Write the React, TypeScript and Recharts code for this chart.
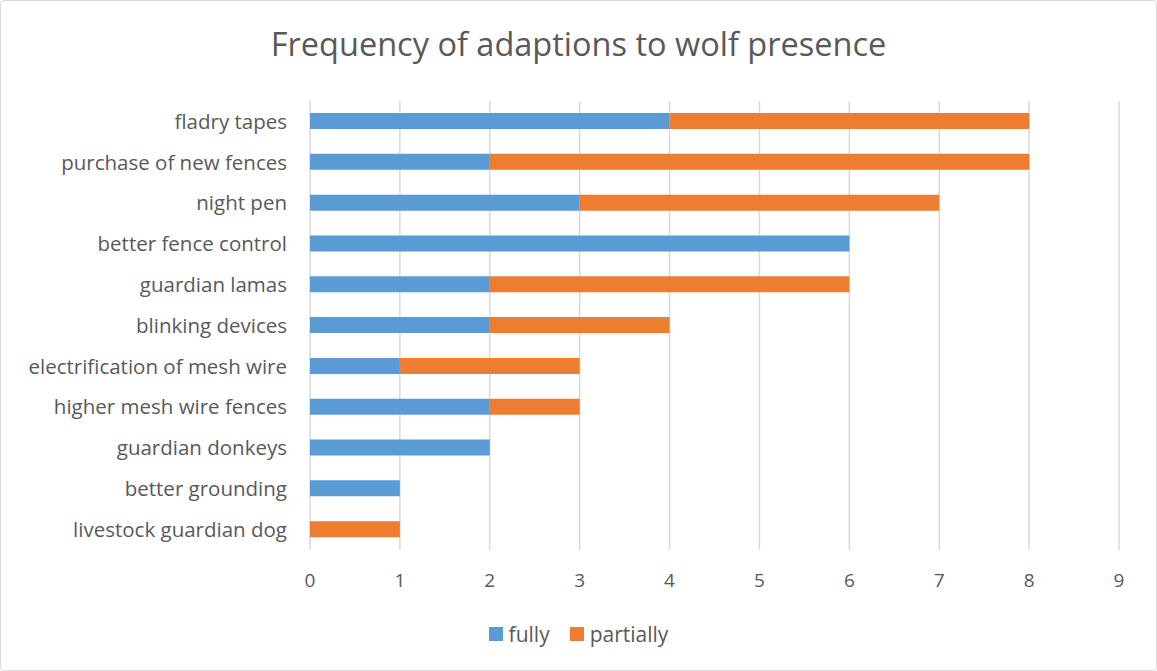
import { BarChart, Bar, XAxis, YAxis, CartesianGrid } from "recharts";

const measures = [
  "fladry tapes",
  "purchase of new fences",
  "night pen",
  "better fence control",
  "guardian lamas",
  "blinking devices",
  "electrification of mesh wire",
  "higher mesh wire fences",
  "guardian donkeys",
  "better grounding",
  "livestock guardian dog",
];

const fully = [4, 2, 3, 6, 2, 2, 1, 2, 2, 1, 0];
const partially = [4, 6, 4, 0, 4, 2, 2, 1, 0, 0, 1];

const xTicks = [0, 1, 2, 3, 4, 5, 6, 7, 8, 9];

const series = [
  { key: "fully", color: "#5b9bd5" },
  { key: "partially", color: "#ed7d31" },
];

const TEXT = "#595959";
const FONT = "'Open Sans', sans-serif";

export default function App() {
  const data = measures.map((name, i) => ({
    name,
    fully: fully[i],
    partially: partially[i],
  }));

  return (
    <div
      style={{
        position: "absolute",
        left: 0,
        top: 0,
        width: 1157,
        height: 671,
        background: "#fff",
        fontFamily: FONT,
      }}
    >
      <div
        style={{
          position: "absolute",
          left: 0,
          top: 0,
          width: 1155,
          height: 669,
          border: "1px solid #d9d9d9",
          borderRadius: 4,
        }}
      />
      <div
        style={{
          position: "absolute",
          left: 0,
          top: 21,
          width: 1157,
          textAlign: "center",
          fontSize: 32.5,
          color: TEXT,
        }}
      >
        Frequency of adaptions to wolf presence
      </div>
      <BarChart
        width={1157}
        height={671}
        data={data}
        layout="vertical"
        barSize={16}
        margin={{ top: 101, right: 38, bottom: 0, left: 0 }}
      >
        <CartesianGrid horizontal={false} stroke="#d9d9d9" strokeWidth={1.5} />
        <XAxis
          type="number"
          domain={[0, 9]}
          ticks={xTicks}
          axisLine={false}
          tickLine={false}
          tickSize={0}
          tickMargin={24}
          height={121}
          tick={{ fill: TEXT, fontSize: 19, fontFamily: FONT }}
        />
        <YAxis
          type="category"
          dataKey="name"
          width={310}
          axisLine={false}
          tickLine={false}
          tickSize={0}
          tickMargin={23}
          interval={0}
          tick={{ fill: TEXT, fontSize: 20.5, fontFamily: FONT }}
        />
        {series.map((s) => (
          <Bar
            key={s.key}
            dataKey={s.key}
            stackId="a"
            fill={s.color}
            isAnimationActive={false}
          />
        ))}
      </BarChart>
      {/* legend */}
      <div
        style={{
          position: "absolute",
          left: 0,
          top: 620,
          width: 1157,
          display: "flex",
          justifyContent: "center",
          gap: 20,
          fontSize: 21,
          color: TEXT,
          lineHeight: "28px",
        }}
      >
        {series.map((s) => (
          <div key={s.key} style={{ display: "flex", alignItems: "center" }}>
            <span
              style={{
                display: "inline-block",
                width: 14,
                height: 14,
                background: s.color,
                marginRight: 6,
              }}
            />
            {s.key}
          </div>
        ))}
      </div>
    </div>
  );
}
